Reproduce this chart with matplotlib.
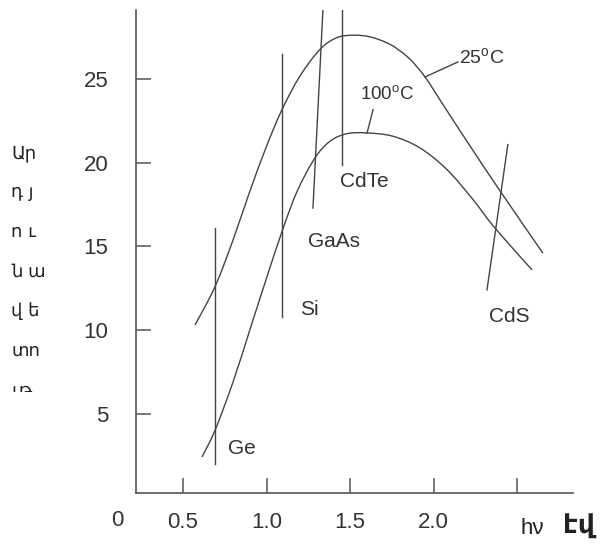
import numpy as np
import matplotlib
matplotlib.use("Agg")
import matplotlib.pyplot as plt
from matplotlib.path import Path
from matplotlib.patches import PathPatch, Rectangle

plt.rcParams['font.family'] = ['Liberation Sans', 'DejaVu Sans']
plt.rcParams['mathtext.fontset'] = 'custom'
plt.rcParams['mathtext.rm'] = 'Liberation Sans'

# efficiency curves (eV, %)
x25 = [0.572, 0.692, 0.80, 0.90, 1.00, 1.093, 1.20, 1.32, 1.42, 1.52, 1.62, 1.74, 1.85, 1.949, 2.05, 2.20, 2.40, 2.655]
y25 = [10.3, 12.6, 15.4, 18.3, 21.0, 23.2, 25.2, 26.8, 27.5, 27.65, 27.55, 27.1, 26.3, 25.15, 23.6, 21.3, 18.3, 14.6]
x100 = [0.614, 0.692, 0.80, 0.90, 1.00, 1.093, 1.183, 1.29, 1.38, 1.48, 1.60, 1.757, 1.919, 2.081, 2.237, 2.368, 2.59]
y100 = [2.4, 4.0, 6.9, 10.0, 13.1, 15.9, 18.3, 20.3, 21.3, 21.75, 21.8, 21.6, 20.9, 19.6, 17.8, 16.1, 13.6]

# band gap markers
materials = ['Ge', 'Si', 'GaAs', 'CdTe', 'CdS']
mat_x = [(0.69, 0.69), (1.09, 1.09), (1.278, 1.338), (1.452, 1.452), (2.32, 2.445)]
mat_y = [(2.0, 16.1), (10.8, 26.5), (17.3, 29.2), (19.9, 29.6), (12.4, 21.1)]
mat_lbl = [(0.77, 2.9), (1.20, 11.2), (1.25, 15.3), (1.44, 18.9), (2.33, 10.8)]

xticks = [0.5, 1.0, 1.5, 2.0, 2.5]
xticklabels = ['0.5', '1.0', '1.5', '2.0', '']
yticks = [5, 10, 15, 20, 25]

ylabel_word = 'Արդյունավետություն'


def smooth(xs, ys):
    # catmull-rom through the read points, drawn as bezier segments
    p = np.column_stack([xs, ys])
    verts = [p[0]]
    codes = [Path.MOVETO]
    for i in range(len(p) - 1):
        p0 = p[i - 1] if i > 0 else p[i]
        p3 = p[i + 2] if i + 2 < len(p) else p[i + 1]
        c1 = p[i] + (p[i + 1] - p0) / 6
        c2 = p[i + 1] - (p3 - p[i]) / 6
        verts += [c1, c2, p[i + 1]]
        codes += [Path.CURVE4] * 3
    return Path(verts, codes)


W, H = 608, 552
fig = plt.figure(figsize=(W / 100, H / 100), dpi=100)
ax = fig.add_axes([136 / W, 1 - 493 / H, (573 - 136) / W, (493 - 10) / H])

lc = '#444444'
for xs, ys in ((x25, y25), (x100, y100)):
    ax.add_patch(PathPatch(smooth(xs, ys), fill=False, edgecolor=lc, lw=1.0))
for name, xs, ys, (lx, ly) in zip(materials, mat_x, mat_y, mat_lbl):
    ax.plot(xs, ys, color=lc, lw=1.0)
    ax.text(lx, ly, name, fontsize=15, color='#333333', va='center', ha='left')

# temperature labels with leaders
ax.plot([1.949, 2.146], [25.15, 26.05], color=lc, lw=1.0)
ax.text(2.155, 26.3, r'25$^{\mathrm{o}}$C', fontsize=14, color='#333333', va='center', ha='left')
ax.plot([1.602, 1.638], [21.8, 23.2], color=lc, lw=1.0)
ax.text(1.56, 24.1, r'100$^{\mathrm{o}}$C', fontsize=13.5, color='#333333', va='center', ha='left')

ax.set_xlim(0.2186, 2.835)
ax.set_ylim(0.24, 29.16)
ax.spines['top'].set_visible(False)
ax.spines['right'].set_visible(False)
for s in ('left', 'bottom'):
    ax.spines[s].set_color('#555555')
    ax.spines[s].set_linewidth(1.2)
ax.set_xticks(xticks)
ax.set_xticklabels(xticklabels)
ax.set_yticks(yticks)
ax.tick_params(direction='in', length=11, width=1.1, color='#555555',
               labelsize=16, labelcolor='#333333')
ax.tick_params(axis='x', pad=14)
ax.tick_params(axis='y', pad=20)
ax.text(117 / W, 1 - 520 / H, '0', transform=fig.transFigure, fontsize=16,
        color='#333333', ha='center', va='center')

# x label
fig.text(521 / W, 1 - 528 / H, 'hν', fontsize=16, color='#222222', va='center', ha='left')
fig.text(563 / W, 1 - 527 / H, 'էվ', fontsize=19, fontweight='bold', color='#222222',
         va='center', ha='left', family=['DejaVu Sans'])

# y label broken in two-letter rows, last row cut off
chunks = [ylabel_word[i:i + 2] for i in range(0, len(ylabel_word), 2)]
for i, ch in enumerate(chunks[:7]):
    fig.text(11 / W, 1 - (153 + 39.5 * i) / H, ' '.join(ch) if i in (1, 2, 3, 4) else ch,
             fontsize=13, color='#222222', va='center', ha='left',
             family=['DejaVu Sans'])
fig.add_artist(Rectangle((0, 1 - 430 / H), 70 / W, 38 / H, transform=fig.transFigure,
                         facecolor='white', edgecolor='none', zorder=10))

fig.savefig('out.png', dpi=100)
